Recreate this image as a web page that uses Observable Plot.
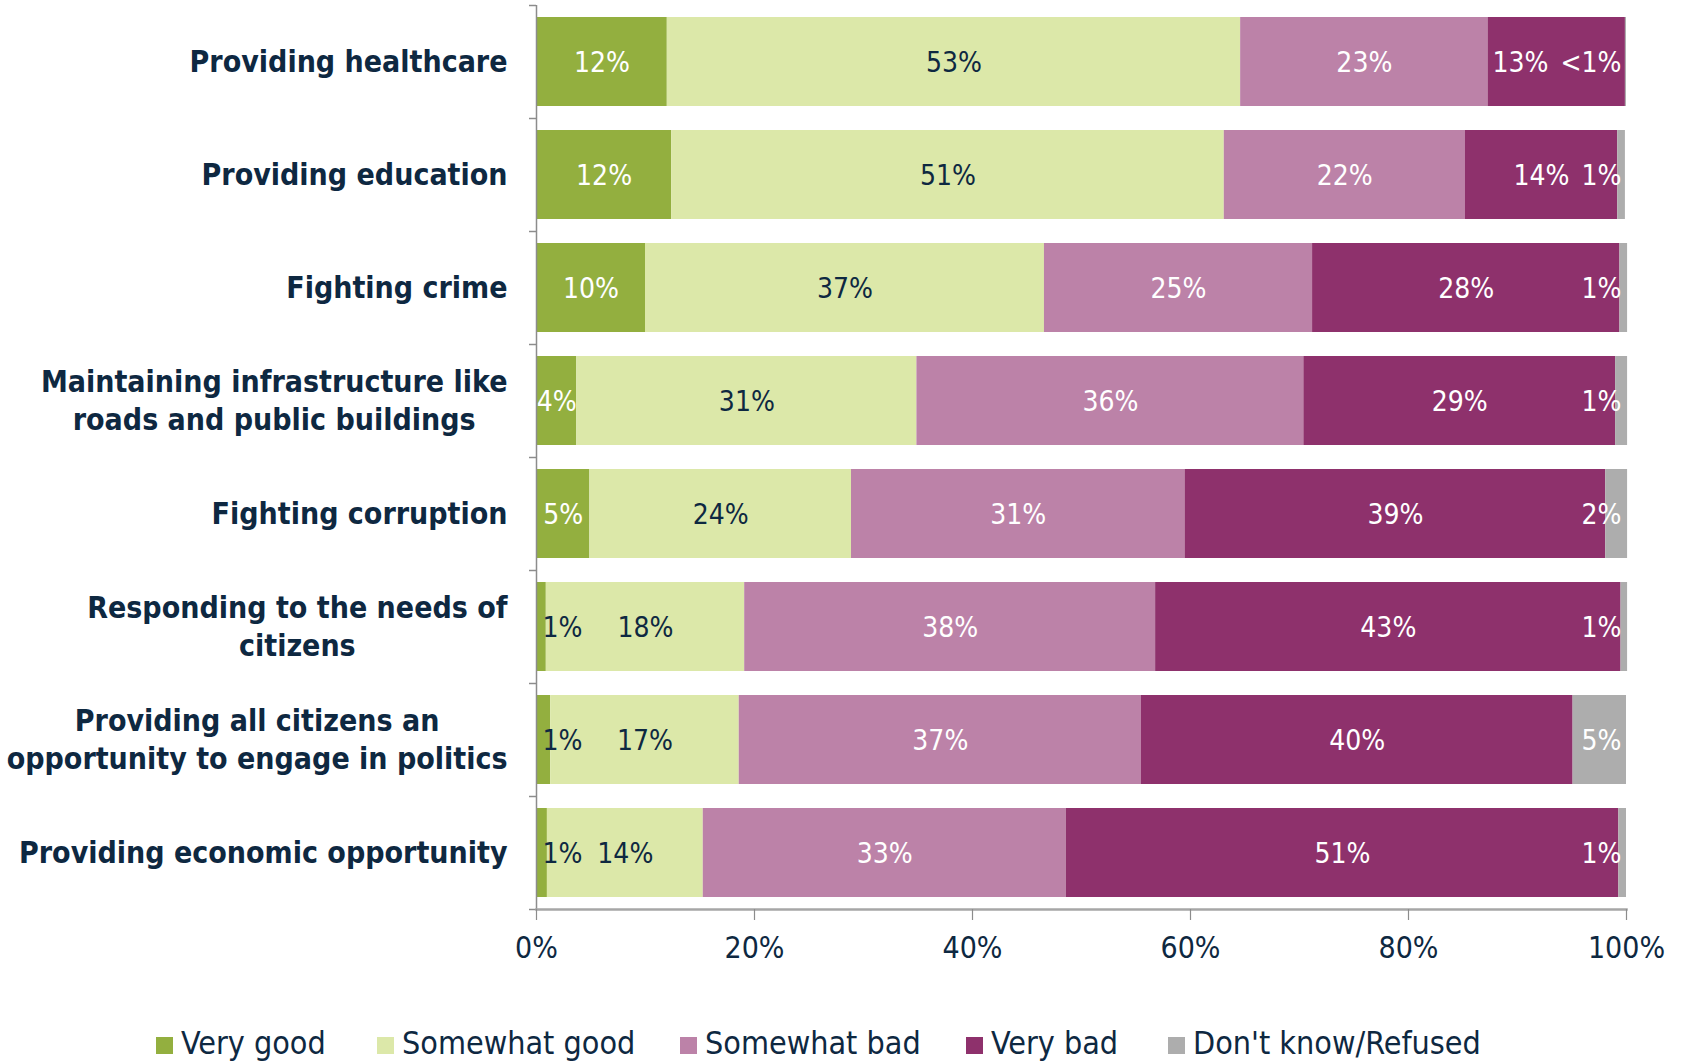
<!DOCTYPE html>
<html>
<head>
<meta charset="utf-8">
<script src="https://cdn.jsdelivr.net/npm/d3@7"></script>
<script src="https://cdn.jsdelivr.net/npm/@observablehq/plot@0.6"></script>
<style>
  html, body { margin: 0; padding: 0; background: #fff; }
  #chart svg { display: block; }
  .legend { position: relative; height: 61px; font-family: "DejaVu Sans Condensed", "DejaVu Sans", sans-serif; font-size: 32px; color: #0E2841; }
  .legend .item { position: absolute; top: 24px; display: flex; align-items: center; white-space: nowrap; }
  .legend .sw { width: 17px; height: 17px; margin-right: 8px; margin-top: 4px; }
</style>
</head>
<body>
<div id="chart"></div>
<div class="legend" id="legend"></div>
<script>
// ---- data ----
const categories = [
  "Providing healthcare",
  "Providing education",
  "Fighting crime",
  "Maintaining infrastructure like\nroads and public buildings",
  "Fighting corruption",
  "Responding to the needs of\ncitizens",
  "Providing all citizens an\nopportunity to engage in politics",
  "Providing economic opportunity"
];
const seriesNames = ["Very good", "Somewhat good", "Somewhat bad", "Very bad", "Don't know/Refused"];
const seriesColors = ["#93AF3F", "#DCE8A9", "#BC82A8", "#8E316C", "#ADADAD"];
const veryGood     = [12.0, 12.4, 10.0,  3.7,  4.9,  0.9,  1.3,  1.0];
const somewhatGood = [52.6, 50.7, 36.6, 31.2, 24.0, 18.2, 17.3, 14.3];
const somewhatBad  = [22.7, 22.1, 24.6, 35.5, 30.6, 37.7, 36.9, 33.3];
const veryBad      = [12.6, 14.0, 28.2, 28.6, 38.6, 42.7, 39.6, 50.7];
const dontKnow     = [ 0.1,  0.7,  0.7,  1.1,  2.0,  0.6,  4.9,  0.7];
const xTicks = [0, 20, 40, 60, 80, 100];

// ---- layout ----
const W = 1681, H = 1000;
const mL = 536, mR = 55, mT = 5, mB = 91;
const padInner = 0.21, padOuter = 0.105;
const navy = "#0E2841";
const axisGray = "#8C8C8C";
const labelFont = '"DejaVu Sans Condensed", "DejaVu Sans", sans-serif';
const catFontSize = 30, valFontSize = 28;
const pxPerUnit = (W - mL - mR) / 100;
const step = (H - mT - mB) / (categories.length - padInner + 2 * padOuter);

const seriesValues = [veryGood, somewhatGood, somewhatBad, veryBad, dontKnow];
const data = categories.flatMap((c, i) =>
  seriesNames.map((s, j) => ({category: c, series: s, value: seriesValues[j][i]}))
);
const fmt = v => v < 0.5 ? "<1%" : Math.round(v) + "%";

const canvas = document.createElement("canvas");
const ctx = canvas.getContext("2d");
function textW(str, size, weight) {
  ctx.font = `${weight || "normal"} ${size}px ${labelFont}`;
  return ctx.measureText(str).width;
}

// category label marks (block right-aligned, lines centered)
const catMarks = categories.map(c => {
  const w = d3.max(c.split("\n"), l => textW(l, catFontSize, "bold"));
  return Plot.text([c], {
    x: () => 0, y: d => d, text: d => d,
    textAnchor: "middle", dx: -(29 + w / 2), dy: -2,
    fontSize: catFontSize, fontWeight: "bold", fill: navy, lineHeight: 1.25
  });
});

// very bad label positions (avoid overlapping the don't-know label)
const dkDx = 5;
const vbLabels = categories.map((c, i) => {
  const mid = veryGood[i] + somewhatGood[i] + somewhatBad[i] + veryBad[i] / 2;
  const wDK = textW(fmt(dontKnow[i]), valFontSize);
  const wVB = textW(fmt(veryBad[i]), valFontSize);
  const limit = 100 - (dkDx + wDK + 12 + wVB / 2) / pxPerUnit;
  return {category: c, x: Math.min(mid, limit), label: fmt(veryBad[i])};
});
const dkLabels = categories.map((c, i) => ({category: c, label: fmt(dontKnow[i])}));
const smallGreen = categories.map((c, i) => ({category: c, v: veryGood[i]})).filter(d => d.v < 2);

const chart = Plot.plot({
  width: W, height: H,
  marginLeft: mL, marginRight: mR, marginTop: mT, marginBottom: mB,
  style: {fontFamily: labelFont, background: "#fff", overflow: "visible"},
  x: {domain: [0, 100], axis: null},
  y: {domain: categories, paddingInner: padInner, paddingOuter: padOuter, axis: null},
  color: {domain: seriesNames, range: seriesColors},
  marks: [
    Plot.barX(data, Plot.stackX({x: "value", y: "category", z: "series", fill: "series"})),
    // centered navy labels
    Plot.text(data, Plot.stackX({
      x: "value", y: "category", z: "series",
      text: d => d.series === "Somewhat good" ? fmt(d.value) : "",
      fill: navy, fontSize: valFontSize, dy: 1
    })),
    // centered white labels
    Plot.text(data, Plot.stackX({
      x: "value", y: "category", z: "series",
      text: d => (d.series === "Somewhat bad" || (d.series === "Very good" && d.value >= 2)) ? fmt(d.value) : "",
      fill: "white", fontSize: valFontSize, dy: 1
    })),
    Plot.text(vbLabels, {x: "x", y: "category", text: "label", fill: "white", fontSize: valFontSize, dy: 1}),
    Plot.text(dkLabels, {x: () => 100, y: "category", text: "label", fill: "white", fontSize: valFontSize, textAnchor: "end", dx: -dkDx, dy: 1}),
    Plot.text(smallGreen, {x: () => 0, y: "category", text: d => fmt(d.v), fill: navy, fontSize: valFontSize, textAnchor: "start", dx: 6, dy: 1}),
    ...catMarks,
    // y axis line and boundary ticks
    Plot.ruleX([0], {stroke: axisGray, strokeWidth: 1.5}),
    Plot.ruleY(categories, {y: d => d, x1: () => -7 / pxPerUnit, x2: () => 0, dy: -step / 2, stroke: axisGray, strokeWidth: 1.5}),
    Plot.ruleY(categories.slice(-1), {y: d => d, x1: () => -7 / pxPerUnit, x2: () => 0, dy: step / 2, stroke: axisGray, strokeWidth: 1.5}),
    // x axis
    Plot.frame({anchor: "bottom", stroke: "#A6A6A6", strokeWidth: 2.5}),
    Plot.axisX({ticks: xTicks, tickFormat: () => "", fontSize: 0, tickSize: 11, stroke: axisGray, strokeWidth: 1.2}),
    Plot.axisX({ticks: xTicks, tickFormat: d => d + "%", tickSize: 0, tickPadding: 27, fill: navy, fontSize: 30})
  ]
});
document.getElementById("chart").appendChild(chart);

// legend
const legendX = [156, 377, 680, 966, 1168];
const legend = document.getElementById("legend");
seriesNames.forEach((s, i) => {
  const item = document.createElement("div");
  item.className = "item";
  item.style.left = legendX[i] + "px";
  const sw = document.createElement("span");
  sw.className = "sw";
  sw.style.background = seriesColors[i];
  const t = document.createElement("span");
  t.textContent = s;
  item.appendChild(sw); item.appendChild(t);
  legend.appendChild(item);
});
</script>
</body>
</html>
